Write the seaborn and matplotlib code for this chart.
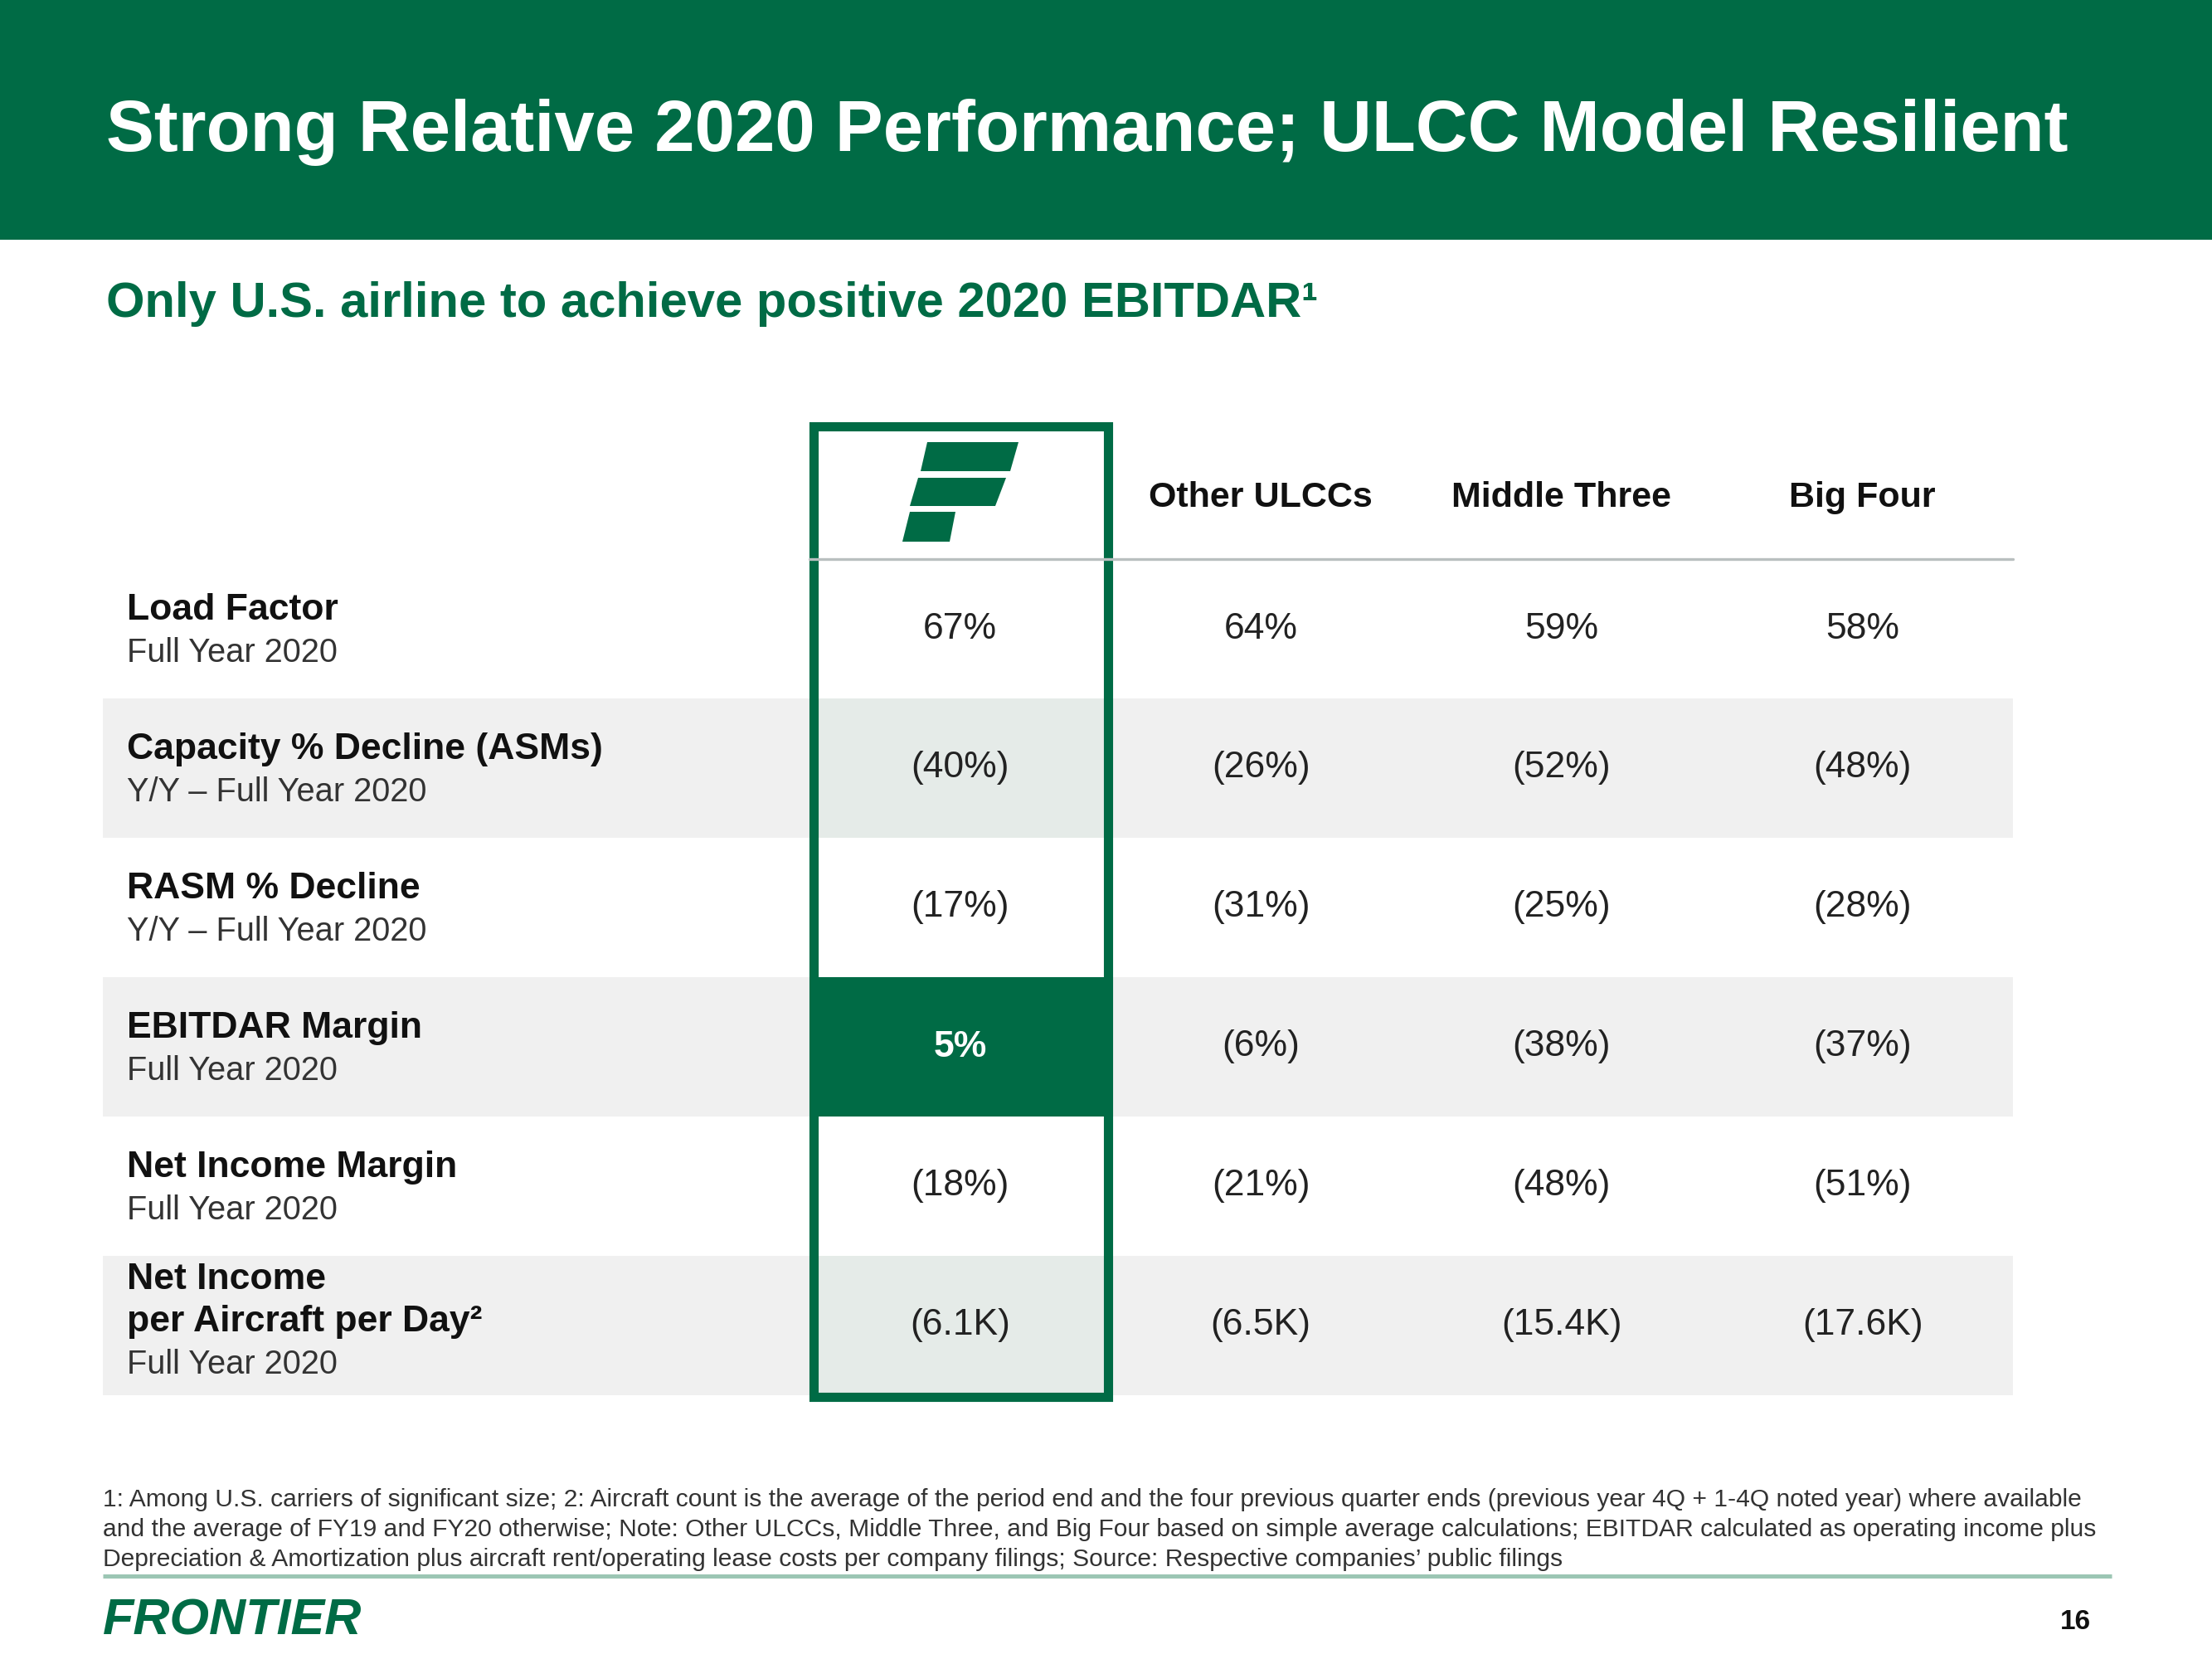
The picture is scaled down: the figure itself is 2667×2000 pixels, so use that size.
import numpy as np
import pandas as pd
import matplotlib
matplotlib.use('Agg')
import matplotlib.pyplot as plt
from matplotlib.colors import ListedColormap
from matplotlib.patches import Rectangle, Polygon
import seaborn as sns

sns.set_theme(style='white')
plt.rcParams['font.family'] = ['Liberation Sans', 'DejaVu Sans']

GREEN = '#006b45'

# ---------------- data ----------------
carriers = ['Frontier', 'Other ULCCs', 'Middle Three', 'Big Four']
metric_names = ['Load Factor', 'Capacity % Decline (ASMs)', 'RASM % Decline',
                'EBITDAR Margin', 'Net Income Margin', 'Net Income\nper Aircraft per Day\u00b2']
metric_notes = ['Full Year 2020', 'Y/Y \u2013 Full Year 2020', 'Y/Y \u2013 Full Year 2020',
                'Full Year 2020', 'Full Year 2020', 'Full Year 2020']
units = ['%', '%', '%', '%', '%', 'K']

load_factor = [67, 64, 59, 58]
capacity_chg = [-40, -26, -52, -48]
rasm_chg = [-17, -31, -25, -28]
ebitdar_margin = [5, -6, -38, -37]
net_income_margin = [-18, -21, -48, -51]
ni_per_aircraft_day = [-6.1, -6.5, -15.4, -17.6]   # $ thousands

footnote = ['1: Among U.S. carriers of significant size; 2: Aircraft count is the average of the period end and the four previous quarter ends (previous year 4Q + 1-4Q noted year) where available',
            'and the average of FY19 and FY20 otherwise; Note: Other ULCCs, Middle Three, and Big Four based on simple average calculations; EBITDAR calculated as operating income plus',
            'Depreciation & Amortization plus aircraft rent/operating lease costs per company filings; Source: Respective companies\u2019 public filings']

df = pd.DataFrame([load_factor, capacity_chg, rasm_chg, ebitdar_margin,
                   net_income_margin, ni_per_aircraft_day],
                  index=metric_names, columns=carriers)


def fmt(v, unit):
    s = f'{abs(v):g}{unit}'
    return f'({s})' if v < 0 else s


labels = np.array([[fmt(v, u) for v in row] for row, u in zip(df.values, units)])

# cell fill codes: 0 white, 1 grey stripe, 2 frontier stripe, 3 highlight
stripe = (np.arange(len(df)) % 2)[:, None] * np.ones(len(carriers))
fill = stripe.copy()
fill[:, 0] *= 2
fill[metric_names.index('EBITDAR Margin'), 0] = 3

# ---------------- layout (pixels) ----------------
W, H = 2667, 2000
X0, X1 = 976, 2427          # data columns
Y0, Y1 = 674, 1682          # data rows
LX0 = 124                   # table left
CELL_W = (X1 - X0) / len(carriers)
ROW_H = (Y1 - Y0) / len(df)

fig = plt.figure(figsize=(W / 200, H / 200), dpi=200)

bg = fig.add_axes([0, 0, 1, 1], zorder=0)
bg.set_xlim(0, W)
bg.set_ylim(H, 0)
bg.axis('off')

# header band + titles
bg.add_patch(Rectangle((0, 0), W, 289, color=GREEN, lw=0))
bg.text(128, 160, 'Strong Relative 2020 Performance; ULCC Model Resilient',
        color='white', fontsize=31.3, fontweight='bold', va='center', ha='left')
bg.text(128, 367, 'Only U.S. airline to achieve positive 2020 EBITDAR\u00b9',
        color=GREEN, fontsize=21.5, fontweight='bold', va='center', ha='left')

# row labels + grey stripes in the label column
for r, (name, note) in enumerate(zip(metric_names, metric_notes)):
    top = Y0 + r * ROW_H
    c = top + ROW_H / 2
    if r % 2 == 1:
        bg.add_patch(Rectangle((LX0, top), X0 - LX0, ROW_H, color='#f0f0f0', lw=0))
    lines = name.split('\n')
    n = len(lines) + 1
    ys = c + (np.arange(n) - (n - 1) / 2) * 51
    ys = ys + (3 if n == 2 else -4)
    for y, t in zip(ys[:-1], lines):
        bg.text(153, y, t, fontsize=16, fontweight='bold', color='#111111', va='center')
    bg.text(153, ys[-1], note, fontsize=14.3, color='#333333', va='center')

# footnote + footer
for i, line in enumerate(footnote):
    bg.text(124, 1808 + i * 36, line, fontsize=10.8, color='#333333', va='center')
bg.plot([124, 2546], [1900, 1900], color='#9cc6b4', lw=1.8, solid_capstyle='butt')
bg.text(124, 1955, 'FRONTIER', fontsize=22, fontweight='heavy', fontstyle='italic',
        color=GREEN, va='center')
bg.text(2521, 1956, '16', fontsize=12, fontweight='bold', color='#111111',
        va='center', ha='right')

# ---------------- table body ----------------
hax = fig.add_axes([X0 / W, 1 - Y1 / H, (X1 - X0) / W, (Y1 - Y0) / H], zorder=1)
cmap = ListedColormap(['#ffffff', '#f0f0f0', '#e5ebe8', GREEN])
sns.heatmap(fill, ax=hax, cmap=cmap, vmin=-0.5, vmax=3.5, cbar=False,
            annot=labels, fmt='', linewidths=0,
            annot_kws={'fontsize': 16, 'color': '#222222'},
            xticklabels=['' if c == 'Frontier' else c for c in carriers],
            yticklabels=False)
for t, f in zip(hax.texts, fill.ravel()):
    if f == 3:
        t.set_color('white')
        t.set_fontweight('bold')
hax.xaxis.tick_top()
hax.tick_params(axis='x', length=0, pad=19.5, labelsize=15.5, labelcolor='#111111')
plt.setp(hax.get_xticklabels(), rotation=0, fontweight='bold')

# ---------------- overlay: header rule, frontier box, logo ----------------
ov = fig.add_axes([0, 0, 1, 1], zorder=3)
ov.set_xlim(0, W)
ov.set_ylim(H, 0)
ov.axis('off')
ov.plot([X0, X1], [Y0, Y0], color='#b9bfbf', lw=1.2)
ov.add_patch(Rectangle((981, 514), 1336 - 981, Y1 + 2 - 514, fill=False, ec=GREEN, lw=4,
                       joinstyle='miter'))
for pts in ([(1118, 533), (1228, 533), (1218, 568), (1110, 568)],
            [(1107, 576), (1213, 576), (1200, 610), (1097, 610)],
            [(1097, 617), (1152, 617), (1145, 653), (1088, 653)]):
    ov.add_patch(Polygon(pts, closed=True, color=GREEN, lw=0))

fig.savefig('out.png', dpi=200)
